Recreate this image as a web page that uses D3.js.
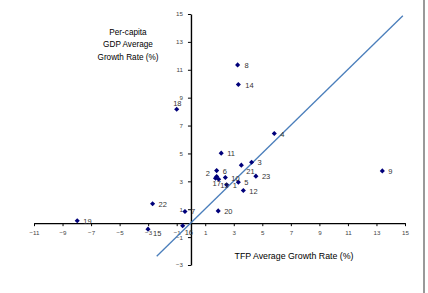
<!DOCTYPE html>
<html>
<head>
<meta charset="utf-8">
<script src="https://cdn.jsdelivr.net/npm/d3@7"></script>
<style>
html,body{margin:0;padding:0;background:#fff;}
svg{display:block;font-family:"Liberation Sans",Arial,sans-serif;}
</style>
</head>
<body>
<svg id="chart" width="428" height="293"></svg>
<script>
// ---- data ----
const labels = ["1","2","3","4","5","6","7","8","9","10","11","12","13","14","15","16","17","18","19","20","21","22","23"];
const tfp    = [2.5, 1.8, 4.25, 5.84, 3.32, 1.8, -0.42, 3.27, 13.41, 2.41, 2.12, 3.67, 1.94, 3.32, -3.01, -0.58, 1.72, -1.0, -7.97, 1.91, 3.53, -2.69, 4.55];
const gdp    = [2.75, 3.35, 4.37, 6.43, 2.94, 3.77, 0.84, 11.35, 3.75, 3.27, 5.02, 2.34, 3.15, 9.94, -0.43, -0.19, 3.22, 8.17, 0.17, 0.88, 4.16, 1.39, 3.37];
const xTicks = [-11,-9,-7,-5,-3,-1,1,3,5,7,9,11,13,15];
const yTicks = [-3,-1,1,3,5,7,9,11,13,15];
const fitLine = {x0:-2.4, x1:14.85, slope:1.0, intercept:0.03};
const xTitle = "TFP Average Growth Rate (%)";
const yTitle = ["Per-capita","GDP Average","Growth Rate (%)"];
// label placement (dx, dy) per point
const labelPos = {
  "18":[-3.5,-3], "21":[5, 9], "17":[-3, 8], "13":[1.5, 9], "2":[-11,0],
  "16":[ 2, 9], "15":[5, 7], "8":[7,3], "14":[7,3]
};

// ---- scales ----
const svg = d3.select("#chart");
const x = d3.scaleLinear().domain([-11,15]).range([34,405]);
const y = d3.scaleLinear().domain([-3,15]).range([265,14]);

// x axis at y=0
const xAxis = svg.append("g").attr("transform",`translate(0,${y(0)})`)
  .call(d3.axisBottom(x).tickValues(xTicks).tickSize(3).tickSizeOuter(0).tickPadding(4));
// y axis at x=0
const yAxis = svg.append("g").attr("transform",`translate(${x(0)},0)`)
  .call(d3.axisLeft(y).tickValues(yTicks).tickSize(3).tickSizeOuter(0).tickPadding(5));
[xAxis,yAxis].forEach(a=>{
  a.select(".domain").attr("stroke","#000").attr("stroke-width",1.4);
  a.selectAll(".tick line").attr("stroke","#000");
  a.selectAll(".tick text").attr("fill","#444").attr("font-size","6.2px")
   .attr("font-family","'Liberation Sans',Arial,sans-serif");
});

// fit line
svg.append("line")
  .attr("x1",x(fitLine.x0)).attr("y1",y(fitLine.slope*fitLine.x0+fitLine.intercept))
  .attr("x2",x(fitLine.x1)).attr("y2",y(fitLine.slope*fitLine.x1+fitLine.intercept))
  .attr("stroke","#4a7ebb").attr("stroke-width",1.3);

// points
const pts = labels.map((l,i)=>({l, x:tfp[i], y:gdp[i]}));
const sym = d3.symbol().type(d3.symbolSquare).size(13);
svg.append("g").selectAll("path").data(pts).join("path")
  .attr("d",sym)
  .attr("transform",d=>`translate(${x(d.x)},${y(d.y)}) rotate(45)`)
  .attr("fill","#00007a");
svg.append("g").selectAll("text").data(pts).join("text")
  .attr("x",d=>x(d.x)+(labelPos[d.l]?labelPos[d.l][0]:6))
  .attr("y",d=>y(d.y)+(labelPos[d.l]?labelPos[d.l][1]:3))
  .attr("font-size","7.5px").attr("fill","#333")
  .text(d=>d.l);

// titles
svg.append("text").attr("x",294).attr("y",258.5)
  .attr("text-anchor","middle").attr("font-size","8.8px").attr("fill","#000").text(xTitle);
svg.append("g").selectAll("text").data(yTitle).join("text")
  .attr("x",128).attr("y",(d,i)=>34.5+i*12.5)
  .attr("text-anchor","middle").attr("font-size","8.2px").attr("fill","#000").text(d=>d);

// right frame edge
svg.append("line").attr("x1",424).attr("x2",424).attr("y1",0).attr("y2",293)
  .attr("stroke","#555").attr("stroke-width",1.2);
</script>
</body>
</html>
